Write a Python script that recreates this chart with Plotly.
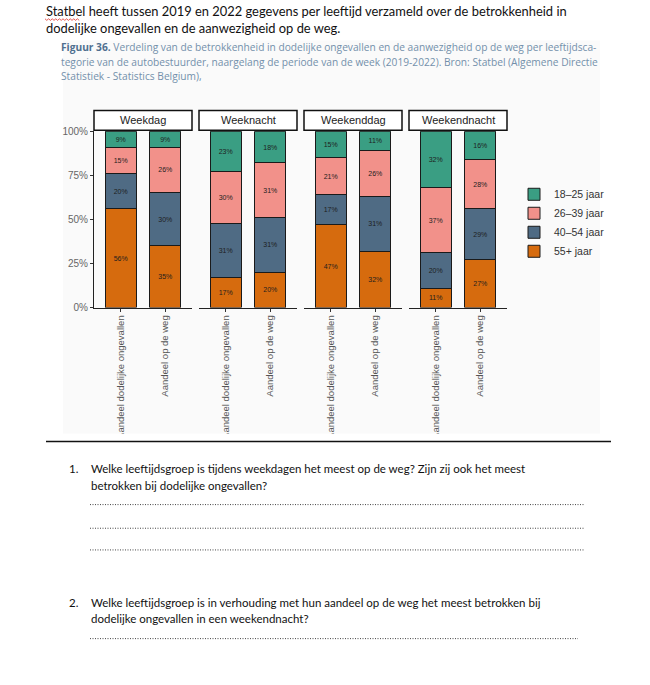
import plotly.graph_objects as go

# ---------------- data ----------------
periods = ["Weekdag", "Weeknacht", "Weekenddag", "Weekendnacht"]
measures = ["Aandeel dodelijke ongevallen", "Aandeel op de weg"]
age_groups = ["55+ jaar", "40–54 jaar", "26–39 jaar", "18–25 jaar"]
# values per period: [ongevallen, weg]
v55 = [[56, 35], [17, 20], [47, 32], [11, 27]]
v40 = [[20, 30], [31, 31], [17, 31], [20, 29]]
v26 = [[15, 26], [30, 31], [21, 26], [37, 28]]
v18 = [[9, 9], [23, 18], [15, 11], [32, 16]]
series = [v55, v40, v26, v18]
colors = ["#d66b0e", "#4f6b84", "#f2918a", "#3a9e83"]
y_ticks = [0, 25, 50, 75, 100]
y_ticktext = ["0%", "25%", "50%", "75%", "100%"]

W, H = 650, 685
def px(x):
    return x / W
def py(y):
    return 1 - y / H

panel_x = [(94, 192), (199, 297), (304, 402), (409, 507)]
plot_top, plot_bot = 128, 307

fig = go.Figure()
for gi, (name, vals, col) in enumerate(zip(age_groups, series, colors)):
    for pi in range(len(periods)):
        ax = "x" if pi == 0 else f"x{pi+1}"
        fig.add_trace(go.Bar(
            x=measures, y=vals[pi], xaxis=ax, yaxis="y",
            name=name, legendgroup=name, showlegend=(pi == 0),
            marker=dict(color=col, line=dict(color="#1a1a1a", width=1)),
            width=0.7,
            text=[f"{v}%" for v in vals[pi]],
            textposition="inside", insidetextanchor="middle", textangle=0,
            textfont=dict(size=7, color="#1e1e1e", family="Liberation Sans"),
            hoverinfo="skip",
        ))

layout = dict(
    width=W, height=H, margin=dict(l=0, r=0, t=0, b=0),
    paper_bgcolor="white", plot_bgcolor="rgba(0,0,0,0)",
    barmode="stack", barnorm="percent",
    font=dict(family="Liberation Sans", color="#333"),
    legend=dict(traceorder="reversed", x=px(514), y=py(221), xanchor="left",
                yanchor="middle", font=dict(size=10.5, color="#333"),
                bgcolor="rgba(0,0,0,0)", tracegroupgap=0),
    yaxis=dict(domain=[py(plot_bot), py(plot_top)], range=[0, 100],
               tickmode="array", tickvals=y_ticks, ticktext=y_ticktext,
               showline=True, linecolor="#222",
               linewidth=1, ticks="outside", ticklen=3, tickcolor="#333",
               tickfont=dict(size=10, color="#666"), showgrid=False, zeroline=False,
               anchor="x"),
)
for pi, (x0, x1) in enumerate(panel_x):
    key = "xaxis" if pi == 0 else f"xaxis{pi+1}"
    layout[key] = dict(domain=[px(x0), px(x1)], type="category",
                       categoryarray=measures, categoryorder="array",
                       range=[-0.6, 1.6], showline=True, linecolor="#222",
                       linewidth=1, ticks="outside", ticklen=3, tickcolor="#333",
                       tickangle=-90, tickfont=dict(size=9.5, color="#555"),
                       showgrid=False, zeroline=False, anchor="y")
fig.update_layout(**layout)

shapes = []
annotations = []
# light background of the embedded figure
shapes.append(dict(type="rect", xref="paper", yref="paper", x0=px(63), x1=px(600),
                   y0=py(435), y1=py(36), fillcolor="#fafafa", line=dict(width=0),
                   layer="below"))
# strip boxes
for pi in range(len(periods)):
    xr = "x domain" if pi == 0 else f"x{pi+1} domain"
    shapes.append(dict(type="rect", xref=xr, yref="paper", x0=0, x1=1,
                       y0=py(127), y1=py(107), fillcolor="white",
                       line=dict(color="#111", width=1.5), layer="above"))
    annotations.append(dict(xref=xr, yref="paper", x=0.5, y=py(117),
                            text=periods[pi], showarrow=False,
                            font=dict(size=11, color="#222", family="Liberation Sans"),
                            xanchor="center", yanchor="middle"))
# cover (figure crop) + separator line
shapes.append(dict(type="rect", xref="paper", yref="paper", x0=0, x1=1,
                   y0=py(460), y1=py(435), fillcolor="white", line=dict(width=0),
                   layer="above"))
shapes.append(dict(type="line", xref="paper", yref="paper", x0=px(46), x1=px(611),
                   y0=py(443), y1=py(443), line=dict(color="#111", width=1.5),
                   layer="above"))
# dotted answer lines
for yy, xe in [(507, 585), (531, 585), (553, 585), (643, 578)]:
    shapes.append(dict(type="line", xref="paper", yref="paper", x0=px(90), x1=px(xe),
                       y0=py(yy), y1=py(yy),
                       line=dict(color="#444", width=1, dash="1px,1.5px"), layer="above"))

# spell-check squiggle under "Statbel"
sq = []
xx = 45.0
k = 0
while xx <= 80:
    sq.append(f"{'M' if k == 0 else 'L'}{px(xx):.5f},{py(14 + (k % 2) * 1.6):.5f}")
    xx += 1.8
    k += 1
shapes.append(dict(type="path", xref="paper", yref="paper", path=" ".join(sq),
                   line=dict(color="#e0302a", width=0.8), layer="above"))

doc_font = dict(family="Lato", size=12.9, color="#111")
def txt(x, y, s, font=doc_font):
    annotations.append(dict(xref="paper", yref="paper", x=px(x), y=py(y), text=s,
                            showarrow=False, xanchor="left", yanchor="middle",
                            align="left", font=font))

txt(44, 6, "Statbel heeft tussen 2019 en 2022 gegevens per leeftijd verzameld over de betrokkenheid in")
txt(44, 23, "dodelijke ongevallen en de aanwezigheid op de weg.")

cap_font = dict(family="Open Sans", size=10.2, color="#7390ab")
txt(59, 43, "<span style='color:#4f6f8f'><b>Figuur 36.</b></span> Verdeling van de betrokkenheid in dodelijke ongevallen en de aanwezigheid op de weg per leeftijdsca-", cap_font)
txt(59, 58, "tegorie van de autobestuurder, naargelang de periode van de week (2019-2022). Bron: Statbel (Algemene Directie", cap_font)
txt(59, 72, "Statistiek - Statistics Belgium),", cap_font)

q_font = dict(family="Lato", size=11.5, color="#111")
txt(67, 470, "1.", q_font)
txt(89, 470, "Welke leeftijdsgroep is tijdens weekdagen het meest op de weg? Zijn zij ook het meest", q_font)
txt(89, 488, "betrokken bij dodelijke ongevallen?", q_font)
txt(67, 606, "2.", q_font)
txt(89, 606, "Welke leeftijdsgroep is in verhouding met hun aandeel op de weg het meest betrokken bij", q_font)
txt(89, 623, "dodelijke ongevallen in een weekendnacht?", q_font)

fig.update_layout(shapes=shapes, annotations=annotations)
fig.write_html("out.html", config={"displayModeBar": False},
               post_script="document.body.style.margin='0';document.body.style.padding='0';")
